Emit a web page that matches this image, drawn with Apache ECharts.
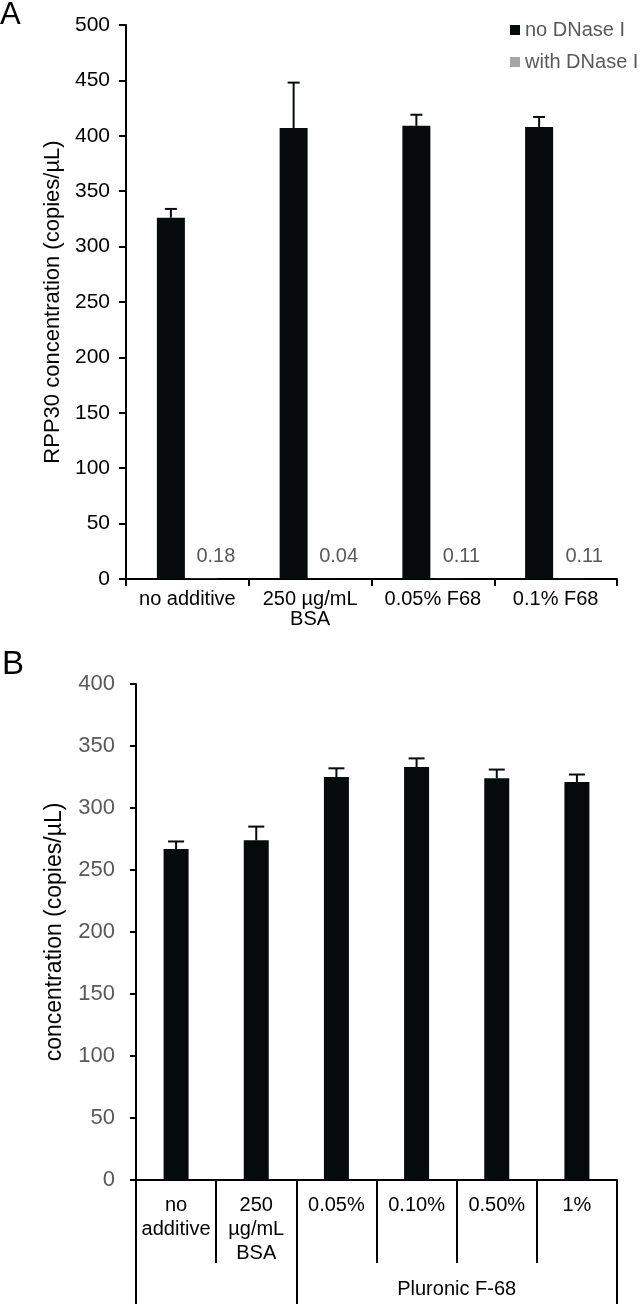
<!DOCTYPE html>
<html>
<head>
<meta charset="utf-8">
<script src="https://cdn.jsdelivr.net/npm/echarts@6/dist/echarts.min.js"></script>
<style>
html,body{margin:0;padding:0;background:#fff;}
#chart{width:644px;height:1305px;}
</style>
</head>
<body>
<div id="chart"></div>
<script>
// ---- Panel A data ----
var categoriesA = ['no additive', '250 µg/mL\nBSA', '0.05% F68', '0.1% F68'];
var seriesNamesA = ['no DNase I', 'with DNase I'];
var noDNase = [326, 407, 409, 408];
var noDNaseErr = [8, 41, 10, 9];
var withDNase = [0.18, 0.04, 0.11, 0.11];
var yAxisTitleA = 'RPP30 concentration (copies/µL)';

// ---- Panel B data ----
var categoriesB = ['no\nadditive', '250\nµg/mL\nBSA', '0.05%', '0.10%', '0.50%', '1%'];
var valuesB = [267, 274, 325, 333, 324, 321];
var errB = [6, 11, 7, 7, 7, 6];
var groupBoundsB = [0, 2, 6];
var groupLabelsB = ['Pluronic F-68'];
var groupLabelPosB = [4];
var yAxisTitleB = 'concentration (copies/µL)';

var FONT = "'Liberation Sans', Arial, sans-serif";
var BLACK = '#060a0a';
var GRAY = '#a6a6a6';
var TXT_GRAY = '#595959';

var BAR_W_A = 28, GAP_A = 5, BAR_W_B = 25;

function errRender(offset, capW) {
  return function (params, api) {
    var x = api.value(0), v = api.value(1), e = api.value(2);
    var p0 = api.coord([x, v]);
    var p1 = api.coord([x, v + e]);
    var cx = p0[0] + offset;
    var style = { stroke: BLACK, lineWidth: 2 };
    return {
      type: 'group',
      children: [
        { type: 'line', shape: { x1: cx, y1: p0[1], x2: cx, y2: p1[1] }, style: style },
        { type: 'line', shape: { x1: cx - capW / 2, y1: p1[1], x2: cx + capW / 2, y2: p1[1] }, style: style }
      ]
    };
  };
}

var chart = echarts.init(document.getElementById('chart'), null, { renderer: 'canvas' });

var option = {
  backgroundColor: '#fff',
  animation: false,
  textStyle: { fontFamily: FONT },
  title: [
    { text: 'A', left: 0, top: 0, padding: 0, textStyle: { fontSize: 31, fontWeight: 'normal', color: '#000', fontFamily: FONT } },
    { text: 'B', left: 2, top: 648, padding: 0, textStyle: { fontSize: 33, fontWeight: 'normal', color: '#000', fontFamily: FONT } }
  ],
  legend: {
    data: seriesNamesA,
    orient: 'vertical',
    left: 510,
    top: 20,
    padding: 0,
    itemGap: 12,
    icon: 'rect',
    itemWidth: 10,
    itemHeight: 10,
    textStyle: { fontSize: 20, color: TXT_GRAY, fontFamily: FONT }
  },
  grid: [
    { left: 126, top: 25, width: 491, height: 554, containLabel: false, outerBoundsMode: 'none' },
    { left: 136, top: 684, width: 481, height: 496, containLabel: false, outerBoundsMode: 'none' }
  ],
  xAxis: [
    {
      type: 'category', gridIndex: 0, data: categoriesA,
      axisLine: { lineStyle: { color: '#000', width: 2 } },
      axisTick: { show: true, length: 7, lineStyle: { color: '#000', width: 2 } },
      axisLabel: { interval: 0, color: '#000', fontSize: 20, lineHeight: 20, margin: 10, fontFamily: FONT }
    },
    {
      type: 'category', gridIndex: 1, data: categoriesB,
      axisLine: { lineStyle: { color: '#000', width: 2 } },
      axisTick: { show: true, length: 83, lineStyle: { color: '#000', width: 2 } },
      axisLabel: { interval: 0, color: '#000', fontSize: 20, lineHeight: 24, margin: 13, fontFamily: FONT }
    },
    {
      type: 'value', gridIndex: 1, min: 0, max: 6, position: 'bottom',
      axisLine: { show: false },
      splitLine: { show: false },
      axisTick: { show: true, customValues: groupBoundsB, length: 124, lineStyle: { color: '#000', width: 2 } },
      axisLabel: {
        show: true, customValues: groupLabelPosB, color: '#000', fontSize: 20, margin: 99, fontFamily: FONT,
        formatter: function (v) { var i = groupLabelPosB.indexOf(v); return i >= 0 ? groupLabelsB[i] : ''; }
      }
    }
  ],
  yAxis: [
    {
      type: 'value', gridIndex: 0, min: 0, max: 500, interval: 50,
      name: yAxisTitleA, nameLocation: 'middle', nameGap: 62, nameRotate: 90,
      nameTextStyle: { fontSize: 22, color: '#000', fontFamily: FONT },
      axisLine: { show: true, lineStyle: { color: '#000', width: 2 } },
      axisTick: { show: true, length: 7, lineStyle: { color: '#000', width: 2 } },
      axisLabel: { color: '#000', fontSize: 21, margin: 16, fontFamily: FONT },
      splitLine: { show: false }
    },
    {
      type: 'value', gridIndex: 1, min: 0, max: 400, interval: 50,
      name: yAxisTitleB, nameLocation: 'middle', nameGap: 70, nameRotate: 90,
      nameTextStyle: { fontSize: 23, color: '#000', fontFamily: FONT },
      axisLine: { show: true, lineStyle: { color: '#000', width: 2 } },
      axisTick: { show: true, length: 6, lineStyle: { color: '#000', width: 2 } },
      axisLabel: { color: TXT_GRAY, fontSize: 22, margin: 21, fontFamily: FONT },
      splitLine: { show: false }
    }
  ],
  series: [
    {
      name: seriesNamesA[0], type: 'bar', xAxisIndex: 0, yAxisIndex: 0,
      data: noDNase, barWidth: BAR_W_A, barGap: (GAP_A / BAR_W_A * 100) + '%',
      itemStyle: { color: BLACK }
    },
    {
      name: seriesNamesA[1], type: 'bar', xAxisIndex: 0, yAxisIndex: 0,
      data: withDNase, barWidth: BAR_W_A,
      itemStyle: { color: GRAY },
      label: {
        show: true, position: 'top', distance: 12, offset: [12, 0],
        color: TXT_GRAY, fontSize: 20, fontFamily: FONT,
        formatter: function (p) { return p.value.toFixed(2); }
      }
    },
    {
      name: 'errA', type: 'custom', xAxisIndex: 0, yAxisIndex: 0,
      renderItem: errRender(-(BAR_W_A + GAP_A) / 2, 12),
      data: noDNase.map(function (v, i) { return [i, v, noDNaseErr[i]]; }),
      encode: { x: 0, y: 1 }, z: 5
    },
    {
      name: 'B', type: 'bar', xAxisIndex: 1, yAxisIndex: 1,
      data: valuesB, barWidth: BAR_W_B,
      itemStyle: { color: BLACK }
    },
    {
      name: 'errB', type: 'custom', xAxisIndex: 1, yAxisIndex: 1,
      renderItem: errRender(0, 16),
      data: valuesB.map(function (v, i) { return [i, v, errB[i]]; }),
      encode: { x: 0, y: 1 }, z: 5
    }
  ]
};
chart.setOption(option);
</script>
</body>
</html>
